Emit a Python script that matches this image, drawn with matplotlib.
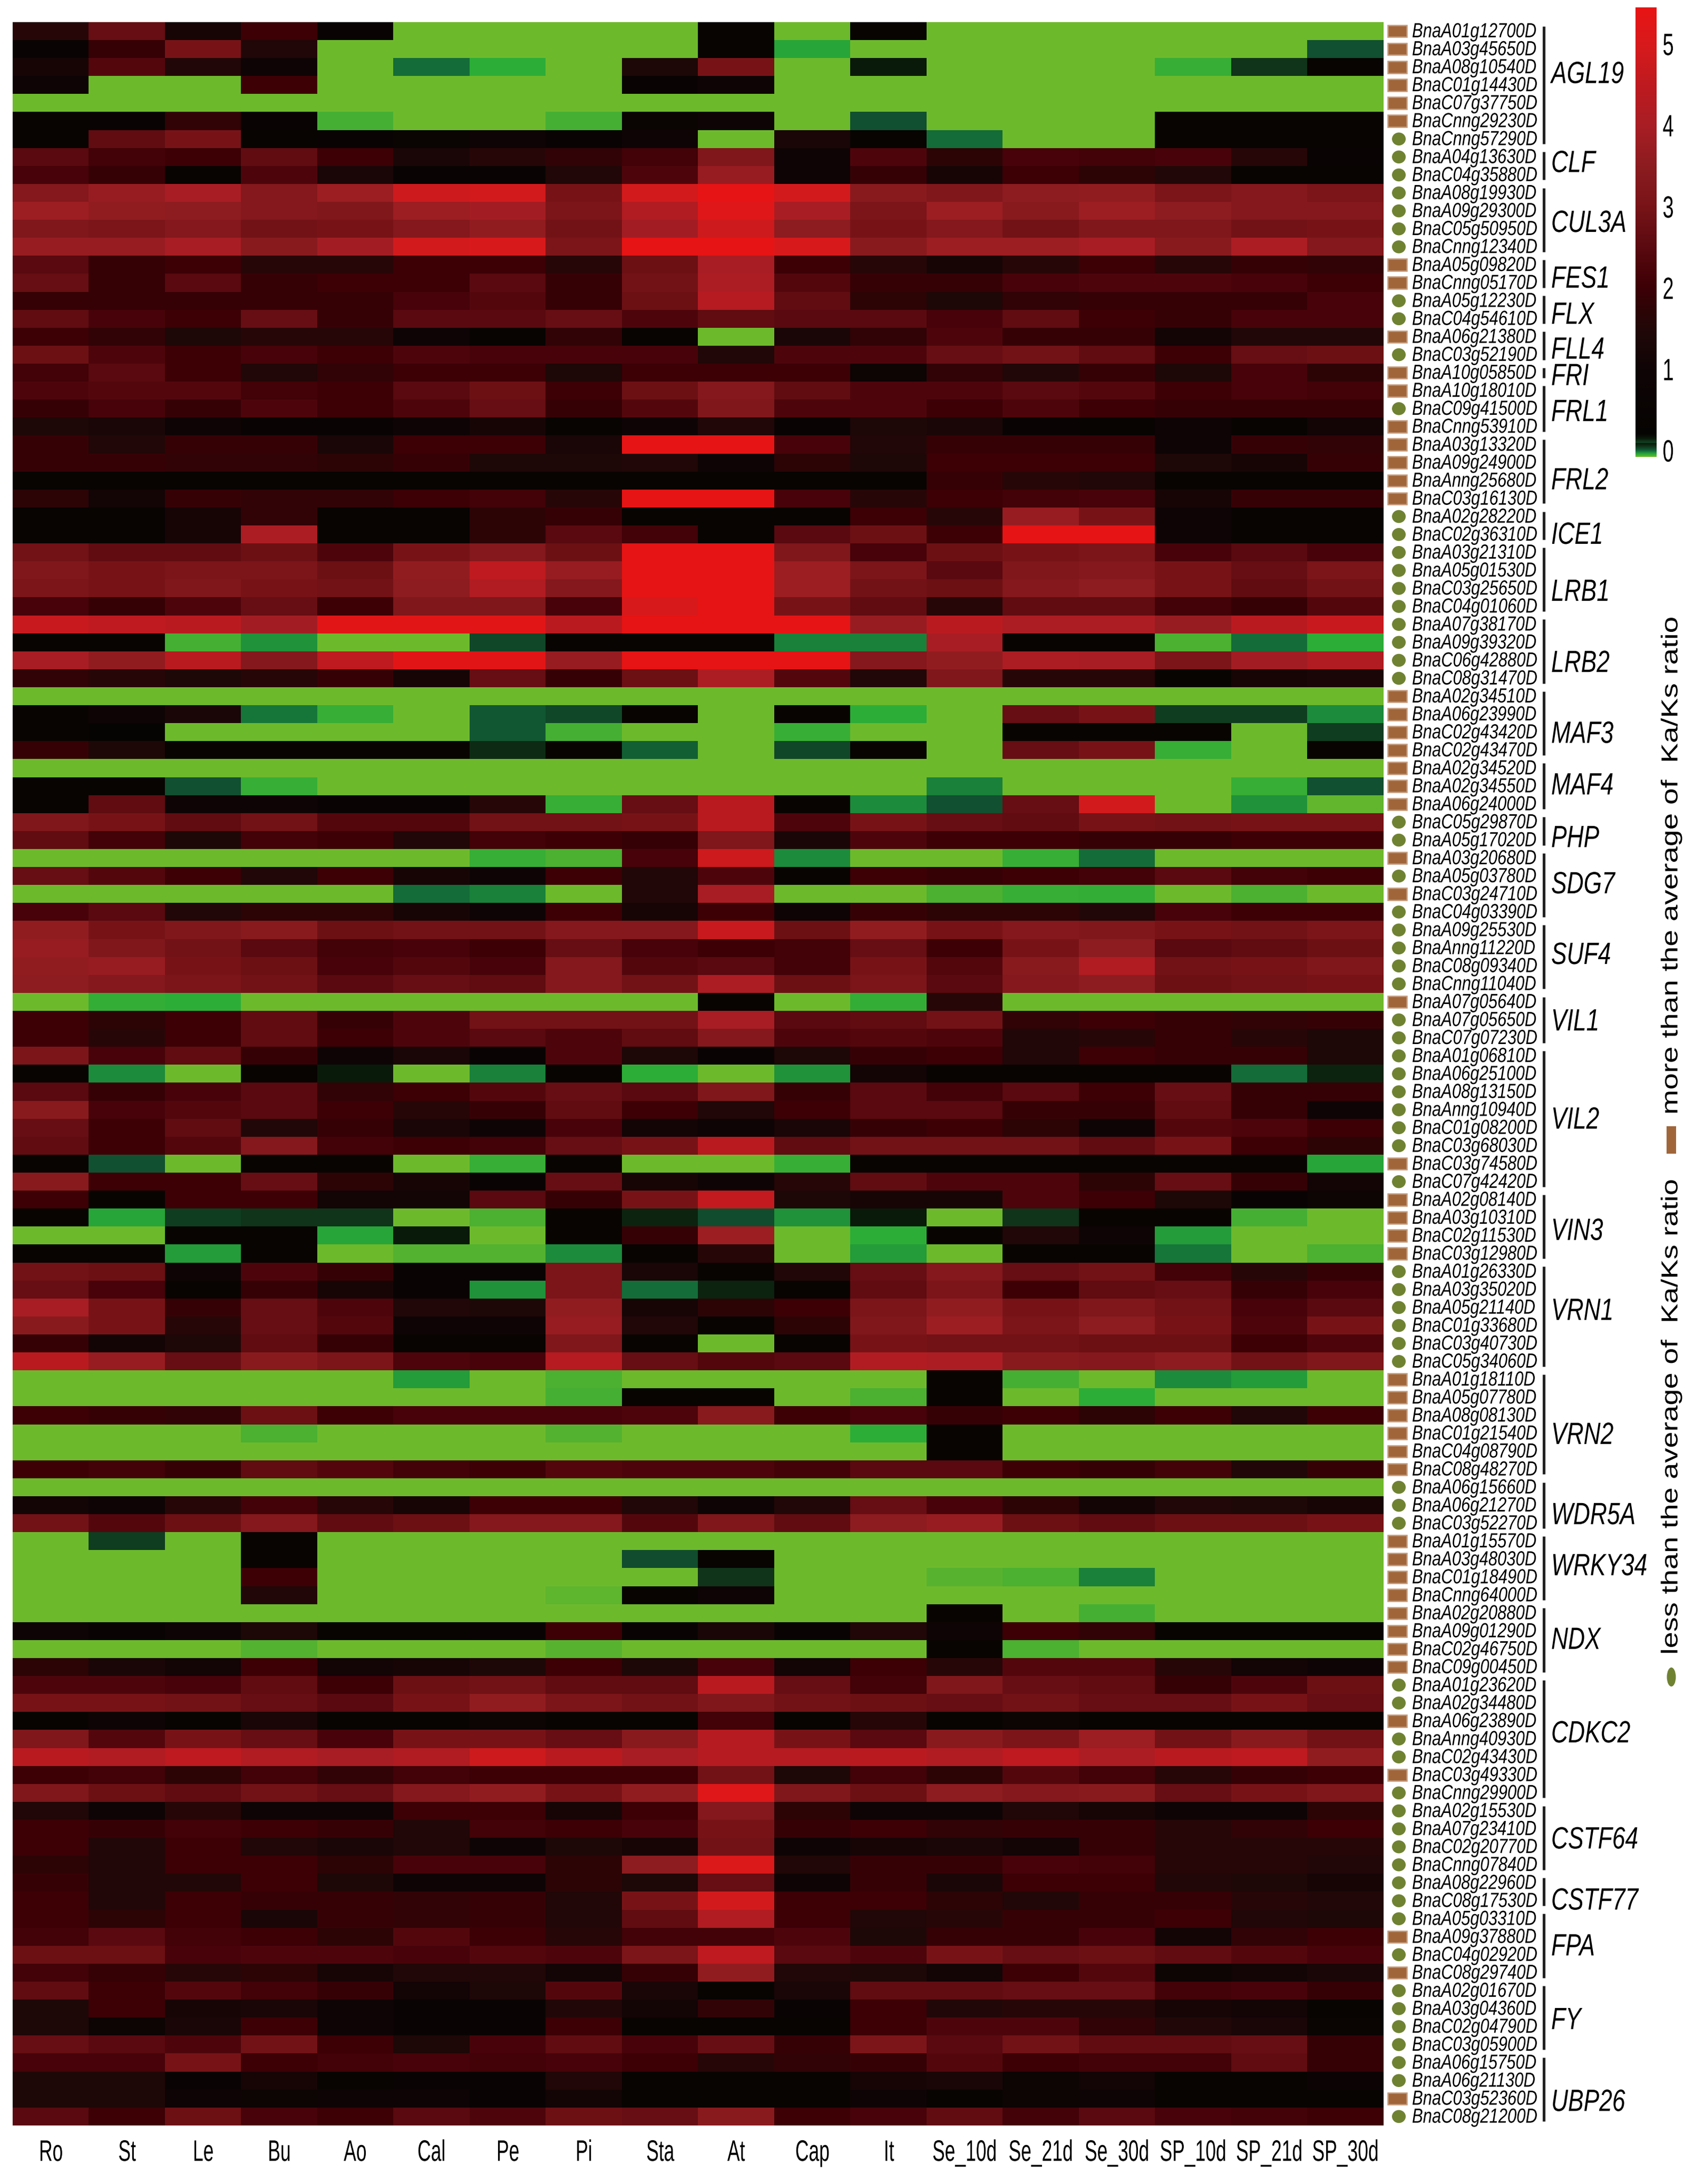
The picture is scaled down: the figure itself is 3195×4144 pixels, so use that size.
import numpy as np
import matplotlib
matplotlib.use('Agg')
import matplotlib.pyplot as plt
from matplotlib.colors import LinearSegmentedColormap
from matplotlib.patches import Rectangle, Ellipse
from matplotlib.patheffects import AbstractPathEffect
from matplotlib.transforms import Affine2D, Bbox

W, H = 3195, 4144
plt.rcParams['font.family'] = ['Liberation Sans', 'DejaVu Sans']

tissues = ['Ro', 'St', 'Le', 'Bu', 'Ao', 'Cal', 'Pe', 'Pi', 'Sta', 'At', 'Cap', 'It',
           'Se_10d', 'Se_21d', 'Se_30d', 'SP_10d', 'SP_21d', 'SP_30d']

group_names = ['AGL19', 'CLF', 'CUL3A', 'FES1', 'FLX', 'FLL4', 'FRI', 'FRL1', 'FRL2', 'ICE1', 'LRB1',
               'LRB2', 'MAF3', 'MAF4', 'PHP', 'SDG7', 'SUF4', 'VIL1', 'VIL2', 'VIN3', 'VRN1', 'VRN2',
               'WDR5A', 'WRKY34', 'NDX', 'CDKC2', 'CSTF64', 'CSTF77', 'FPA', 'FY', 'UBP26']
group_sizes = [7, 2, 4, 2, 2, 2, 1, 3, 4, 2, 4, 4, 4, 3, 2, 4, 4, 3, 8, 4, 6, 6, 3, 4, 4, 7, 4, 2, 4, 4, 4]
# where each group name sits, in rows from the top of the heatmap
group_label_rows = [2.8, 7.75, 11.08, 14.18, 16.19, 18.13, 19.6, 21.6, 25.4, 28.43, 31.6, 35.56, 39.5,
                    42.37, 45.3, 47.87, 51.8, 55.5, 60.96, 67.15, 71.6, 78.5, 82.96, 85.8, 89.9, 95.1,
                    101.0, 104.4, 106.95, 111.05, 115.6]

genes = ['BnaA01g12700D', 'BnaA03g45650D', 'BnaA08g10540D', 'BnaC01g14430D', 'BnaC07g37750D', 'BnaCnng29230D',
         'BnaCnng57290D', 'BnaA04g13630D', 'BnaC04g35880D', 'BnaA08g19930D', 'BnaA09g29300D', 'BnaC05g50950D',
         'BnaCnng12340D', 'BnaA05g09820D', 'BnaCnng05170D', 'BnaA05g12230D', 'BnaC04g54610D', 'BnaA06g21380D',
         'BnaC03g52190D', 'BnaA10g05850D', 'BnaA10g18010D', 'BnaC09g41500D', 'BnaCnng53910D', 'BnaA03g13320D',
         'BnaA09g24900D', 'BnaAnng25680D', 'BnaC03g16130D', 'BnaA02g28220D', 'BnaC02g36310D', 'BnaA03g21310D',
         'BnaA05g01530D', 'BnaC03g25650D', 'BnaC04g01060D', 'BnaA07g38170D', 'BnaA09g39320D', 'BnaC06g42880D',
         'BnaC08g31470D', 'BnaA02g34510D', 'BnaA06g23990D', 'BnaC02g43420D', 'BnaC02g43470D', 'BnaA02g34520D',
         'BnaA02g34550D', 'BnaA06g24000D', 'BnaC05g29870D', 'BnaA05g17020D', 'BnaA03g20680D', 'BnaA05g03780D',
         'BnaC03g24710D', 'BnaC04g03390D', 'BnaA09g25530D', 'BnaAnng11220D', 'BnaC08g09340D', 'BnaCnng11040D',
         'BnaA07g05640D', 'BnaA07g05650D', 'BnaC07g07230D', 'BnaA01g06810D', 'BnaA06g25100D', 'BnaA08g13150D',
         'BnaAnng10940D', 'BnaC01g08200D', 'BnaC03g68030D', 'BnaC03g74580D', 'BnaC07g42420D', 'BnaA02g08140D',
         'BnaA03g10310D', 'BnaC02g11530D', 'BnaC03g12980D', 'BnaA01g26330D', 'BnaA03g35020D', 'BnaA05g21140D',
         'BnaC01g33680D', 'BnaC03g40730D', 'BnaC05g34060D', 'BnaA01g18110D', 'BnaA05g07780D', 'BnaA08g08130D',
         'BnaC01g21540D', 'BnaC04g08790D', 'BnaC08g48270D', 'BnaA06g15660D', 'BnaA06g21270D', 'BnaC03g52270D',
         'BnaA01g15570D', 'BnaA03g48030D', 'BnaC01g18490D', 'BnaCnng64000D', 'BnaA02g20880D', 'BnaA09g01290D',
         'BnaC02g46750D', 'BnaC09g00450D', 'BnaA01g23620D', 'BnaA02g34480D', 'BnaA06g23890D', 'BnaAnng40930D',
         'BnaC02g43430D', 'BnaC03g49330D', 'BnaCnng29900D', 'BnaA02g15530D', 'BnaA07g23410D', 'BnaC02g20770D',
         'BnaCnng07840D', 'BnaA08g22960D', 'BnaC08g17530D', 'BnaA05g03310D', 'BnaA09g37880D', 'BnaC04g02920D',
         'BnaC08g29740D', 'BnaA02g01670D', 'BnaA03g04360D', 'BnaC02g04790D', 'BnaC03g05900D', 'BnaA06g15750D',
         'BnaA06g21130D', 'BnaC03g52360D', 'BnaC08g21200D']

# r = more than the average ratio, c = less than the average, one per gene
marker_types = ('rrrrrrc' 'cc' 'cccc' 'rr' 'cc' 'rc' 'r' 'rcr' 'rrrr' 'cc' 'cccc' 'cccc' 'rrrr' 'rrr' 'cc' 'rcrc'
                'cccc' 'rcc' 'ccccccrc' 'rrrr' 'cccccc' 'rrrrrr' 'ccc' 'rrrr' 'rrrr' 'ccrccrc' 'cccc' 'cc' 'crcr'
                'cccc' 'ccrc')

ka_ks = [
    [1.6, 2.7, 1.2, 2.0, .5, 0, 0, 0, 0, .3, 0, .4, 0, 0, 0, 0, 0, 0],
    [.5, 1.9, 3.0, 1.5, 0, 0, 0, 0, 0, .3, .03, 0, 0, 0, 0, 0, 0, .08],
    [1.2, 2.4, 1.5, 1.0, 0, .06, .025, 0, 1.4, 3.0, 0, .14, 0, 0, 0, .02, .11, .4],
    [.9, 0, 0, 2.0, 0, 0, 0, 0, .5, .9, 0, 0, 0, 0, 0, 0, 0, 0],
    [0, 0, 0, 0, 0, 0, 0, 0, 0, 0, 0, 0, 0, 0, 0, 0, 0, 0],
    [.4, .5, 1.8, .5, .015, 0, 0, .015, .6, .9, 0, .08, 0, 0, 0, .4, .4, .4],
    [.4, 2.6, 3.0, .4, .5, .6, 1.0, .5, 1.0, 0, 1.3, .4, .06, 0, 0, .4, .4, .4],
    [2.5, 2.1, 2.0, 2.6, 2.0, 1.3, 1.6, 1.8, 2.1, 3.2, 1.0, 2.3, 1.7, 2.2, 2.1, 2.2, 1.6, .5],
    [2.2, 1.9, .4, 2.3, 1.3, .5, .5, 1.5, 2.3, 3.7, 1.0, 1.9, 1.2, 2.0, 1.7, 1.5, .4, .4],
    [3.3, 3.7, 4.0, 3.3, 3.8, 4.8, 4.9, 3.0, 4.9, 5.4, 4.9, 3.4, 3.2, 3.5, 3.6, 3.1, 3.3, 3.1],
    [3.8, 3.6, 3.5, 3.3, 3.2, 3.8, 3.9, 3.1, 4.2, 5.2, 4.0, 3.1, 3.8, 3.4, 3.8, 3.5, 3.3, 3.3],
    [3.2, 3.1, 3.3, 2.9, 3.0, 3.3, 3.6, 2.9, 3.9, 4.8, 3.5, 3.0, 3.3, 2.9, 3.2, 3.2, 2.9, 3.0],
    [3.7, 3.7, 4.0, 3.4, 3.9, 4.9, 5.0, 3.1, 5.4, 5.4, 5.0, 3.4, 3.8, 3.8, 4.0, 3.4, 4.1, 3.3],
    [2.5, 1.9, 2.0, 1.6, 1.6, 2.0, 2.0, 1.6, 2.8, 4.0, 2.0, 1.6, 1.2, 1.6, 2.0, 1.6, 1.9, 1.8],
    [2.7, 1.9, 2.5, 1.9, 2.0, 2.0, 2.5, 1.9, 2.9, 4.1, 2.4, 1.9, 1.9, 2.2, 2.3, 2.3, 2.2, 2.0],
    [1.9, 1.9, 1.9, 1.9, 1.9, 2.2, 2.4, 1.9, 2.8, 4.3, 2.6, 1.7, 1.4, 1.8, 1.9, 1.9, 1.9, 2.2],
    [2.6, 2.2, 2.0, 2.7, 1.9, 2.5, 2.5, 2.7, 2.3, 2.6, 2.5, 2.5, 2.2, 2.6, 2.0, 1.9, 2.2, 2.2],
    [2.0, 1.8, 1.4, 1.6, 1.6, .9, .4, 1.8, .4, 0, 1.3, 1.8, 2.3, 1.9, 1.9, 1.1, 1.5, 1.5],
    [2.8, 2.3, 2.0, 2.2, 2.0, 2.3, 2.2, 2.2, 2.2, 1.5, 2.3, 2.3, 2.7, 2.9, 2.6, 2.0, 2.7, 2.8],
    [2.1, 2.5, 2.0, 1.5, 1.8, 2.0, 2.0, 1.4, 2.0, 2.0, 2.0, .8, 1.8, 1.5, 1.9, 1.4, 2.2, 1.7],
    [2.3, 2.4, 2.4, 2.1, 2.0, 2.5, 2.8, 2.0, 2.8, 3.3, 2.6, 2.3, 2.3, 2.5, 2.4, 2.0, 2.2, 2.1],
    [1.9, 2.2, 1.9, 2.3, 2.0, 2.3, 2.7, 1.9, 2.4, 3.2, 2.3, 2.3, 2.0, 2.3, 2.0, 1.9, 1.9, 1.9],
    [1.4, 1.3, 1.0, .5, .5, 1.0, 1.2, .4, 1.0, 1.5, .5, 1.4, 1.3, .5, .4, .9, .4, 1.1],
    [1.9, 1.5, 1.9, 1.9, 1.3, 2.0, 2.0, 1.3, 5.4, 5.4, 2.2, 1.5, 1.9, 1.9, 1.9, .9, 1.9, 1.8],
    [1.9, 1.9, 1.8, 1.8, 1.7, 1.9, 1.4, 1.4, 1.5, 1.0, 1.7, 1.4, 2.0, 2.0, 2.0, 1.4, 1.2, 1.9],
    [.4, .4, .4, .4, .4, .4, .4, .4, .4, .4, .4, .4, 1.9, 1.6, 1.5, .4, .4, .4],
    [1.7, 1.1, 1.9, 1.8, 1.8, 2.0, 2.1, 1.6, 5.4, 5.4, 2.2, 1.6, 2.0, 2.1, 2.2, 1.2, 1.9, 1.9],
    [.4, .4, 1.2, 1.8, .4, .4, 1.7, 1.9, .4, .4, .4, 2.0, 1.6, 3.7, 3.0, 1.0, .4, .4],
    [.4, .4, 1.2, 4.1, .4, .4, 1.7, 2.5, 2.1, .4, 2.5, 2.8, 2.0, 5.4, 5.4, 1.0, .4, .4],
    [2.9, 2.6, 2.6, 2.8, 2.3, 3.0, 3.3, 2.8, 5.4, 5.4, 3.2, 2.2, 2.8, 3.0, 3.1, 2.2, 2.5, 2.2],
    [3.2, 3.0, 3.1, 3.1, 2.8, 3.6, 4.5, 3.7, 5.4, 5.4, 3.8, 3.1, 2.5, 3.2, 3.3, 3.0, 2.7, 3.1],
    [3.1, 3.0, 3.2, 3.0, 2.9, 3.5, 4.2, 3.3, 5.4, 5.4, 3.8, 2.9, 2.8, 3.3, 3.5, 3.0, 2.6, 2.9],
    [2.2, 1.9, 2.3, 2.7, 2.0, 3.2, 3.2, 2.2, 5.0, 5.4, 3.0, 2.6, 1.6, 2.6, 2.6, 2.1, 1.9, 2.4],
    [4.7, 4.5, 4.4, 3.9, 5.3, 5.3, 5.3, 4.4, 5.4, 5.4, 5.4, 3.7, 4.4, 4.1, 4.1, 3.7, 4.4, 4.7],
    [.4, .4, .015, .04, 0, 0, .09, .4, .4, .4, .05, .05, 4.0, .4, .4, .012, .06, .025],
    [4.0, 3.6, 4.4, 3.3, 4.5, 5.3, 5.3, 3.7, 5.4, 5.4, 5.4, 3.3, 3.6, 4.1, 4.0, 3.1, 3.9, 4.2],
    [1.8, 1.6, 1.4, 1.6, 1.9, 1.2, 2.7, 1.9, 2.8, 4.1, 2.4, 1.5, 3.2, 1.6, 1.6, .4, 1.2, 1.3],
    [0, 0, 0, 0, 0, 0, 0, 0, 0, 0, 0, 0, 0, 0, 0, 0, 0, 0],
    [.4, 1.0, 1.3, .055, .02, 0, .075, .09, .3, 0, .4, .025, 0, 2.7, 3.0, .1, .1, .045],
    [.4, .2, 0, 0, 0, 0, .075, .015, 0, 0, .02, 0, 0, .4, .4, .4, 0, .1],
    [1.9, 1.4, .4, .4, .4, .4, .12, .4, .07, 0, .09, .4, 0, 2.7, 3.0, .02, 0, .4],
    [0, 0, 0, 0, 0, 0, 0, 0, 0, 0, 0, 0, 0, 0, 0, 0, 0, 0],
    [.4, .4, .08, .02, 0, 0, 0, 0, 0, 0, 0, 0, .05, 0, 0, 0, .02, .08],
    [.4, 2.6, .9, 1.0, .5, .5, 1.6, .02, 2.7, 4.4, .4, .045, .08, 2.7, 4.9, 0, .04, .005],
    [3.2, 3.0, 2.6, 2.9, 2.4, 2.4, 2.9, 2.9, 3.0, 4.4, 2.3, 3.0, 2.7, 2.6, 3.0, 2.9, 3.0, 3.0],
    [2.6, 2.1, 1.4, 2.1, 2.0, 1.5, 2.1, 2.0, 1.9, 3.2, 1.3, 2.3, 2.0, 2.0, 1.9, 1.9, 2.0, 2.0],
    [0, 0, 0, 0, 0, 0, .02, .012, 2.2, 4.8, .045, 0, 0, .02, .06, 0, 0, 0],
    [2.7, 2.4, 2.0, 1.5, 2.0, 1.2, .9, 2.0, 1.5, 2.3, .4, 2.0, 1.9, 2.0, 2.1, 2.5, 2.1, 2.0],
    [0, 0, 0, 0, 0, .06, .05, 0, 1.5, 4.0, 0, 0, .012, .02, .022, 0, .012, 0],
    [2.2, 2.5, 1.5, 1.7, 1.7, 1.2, 1.0, 2.0, 1.2, 2.0, .9, 1.9, 1.7, 1.7, 1.5, 2.2, 2.0, 2.0],
    [3.6, 3.0, 3.2, 3.4, 2.8, 2.9, 2.9, 3.3, 3.3, 4.7, 2.8, 3.6, 3.0, 3.3, 3.2, 3.0, 2.9, 3.1],
    [3.7, 3.2, 2.9, 2.5, 2.1, 2.2, 2.0, 2.7, 2.2, 2.0, 2.1, 2.7, 2.0, 3.0, 3.5, 2.5, 2.6, 2.8],
    [3.6, 3.7, 3.0, 2.8, 2.2, 2.4, 2.2, 3.3, 2.4, 2.5, 2.1, 3.0, 2.4, 3.4, 4.2, 2.9, 3.0, 3.2],
    [3.5, 3.3, 3.1, 2.9, 2.5, 2.7, 2.6, 3.3, 2.9, 4.1, 2.8, 3.1, 2.5, 3.3, 3.5, 2.8, 2.9, 3.0],
    [0, .022, .025, 0, 0, 0, 0, 0, 0, .4, 0, .022, 1.6, 0, 0, 0, 0, 0],
    [2.0, 1.7, 2.0, 2.6, 1.9, 2.3, 2.9, 2.9, 2.9, 4.0, 2.5, 2.6, 2.9, 1.8, 2.0, 1.9, 1.8, 1.9],
    [2.0, 1.6, 2.0, 2.6, 2.0, 2.3, 2.5, 2.3, 2.6, 3.3, 2.3, 2.4, 2.3, 1.5, 1.6, 1.9, 1.6, 1.4],
    [3.1, 2.2, 2.6, 1.9, 1.0, 1.3, .5, 2.3, 1.4, .5, 1.4, 1.9, 2.0, 1.5, 2.0, 1.9, 1.9, 1.4],
    [.4, .045, 0, .4, .14, 0, .05, .4, .025, 0, .04, 1.1, .4, .4, .4, .4, .06, .13],
    [2.5, 1.9, 2.2, 2.5, 1.8, 2.0, 2.4, 2.7, 2.5, 3.2, 1.9, 2.5, 2.1, 2.5, 2.0, 2.7, 1.9, 1.9],
    [3.4, 2.2, 2.4, 2.5, 2.0, 1.6, 1.9, 2.6, 2.0, 1.5, 2.0, 2.5, 2.5, 1.9, 1.9, 2.6, 1.9, 1.0],
    [2.7, 2.0, 2.6, 1.5, 1.9, 1.3, 1.0, 2.2, 1.1, 1.0, 1.3, 1.9, 2.0, 1.7, 1.0, 2.4, 2.3, 2.0],
    [2.6, 2.0, 2.4, 3.3, 2.1, 2.0, 2.1, 2.7, 3.0, 4.4, 2.6, 2.9, 2.9, 2.9, 2.6, 3.0, 2.0, 1.7],
    [.4, .08, 0, .4, .4, 0, .02, .4, 0, 0, .02, .4, .4, .4, .4, .4, .4, .03],
    [3.4, 2.0, 2.0, 2.7, 1.7, 1.2, .5, 2.7, 1.2, .9, 1.6, 2.6, 2.3, 2.3, 1.7, 2.7, 1.9, 1.1],
    [2.0, .4, 2.0, 2.0, 1.1, 1.1, 2.5, 1.9, 3.0, 4.6, 1.4, 1.2, 1.2, 2.3, 2.0, 1.4, .5, .8],
    [.4, .03, .1, .11, .11, 0, .012, .4, .13, .085, .04, .14, 0, .11, .4, .4, .015, 0],
    [0, 0, .4, .4, .03, .14, 0, .4, 1.9, 3.8, 0, .025, .4, 1.5, 1.0, .035, 0, 0],
    [.4, .4, .035, .4, 0, .01, .01, .045, .4, 1.6, 0, .035, 0, .4, .4, .055, 0, .012],
    [2.9, 2.8, 1.0, 2.3, 1.9, .5, .5, 3.1, 1.3, .4, 1.5, 2.7, 3.3, 2.7, 2.9, 2.1, 1.6, 1.9],
    [2.7, 2.2, .4, 1.9, 1.2, .5, .04, 3.1, .06, .13, .4, 2.6, 3.1, 2.0, 2.6, 2.7, 1.9, 2.2],
    [4.0, 3.0, 1.9, 2.7, 2.3, 1.5, 1.4, 3.6, 1.2, 1.7, 2.0, 3.1, 3.6, 3.0, 3.2, 2.9, 2.2, 2.5],
    [3.4, 3.0, 1.6, 2.7, 2.4, .9, 1.0, 3.7, 1.5, .4, 1.7, 3.2, 3.8, 3.1, 3.5, 3.0, 2.3, 3.0],
    [1.9, 1.1, 1.4, 2.6, 1.9, .4, .4, 3.2, .4, 0, .4, 3.0, 2.9, 2.9, 2.8, 2.8, 2.0, 2.3],
    [4.4, 3.7, 2.7, 3.4, 3.1, 2.3, 2.2, 4.3, 2.7, 2.4, 2.5, 4.2, 4.1, 3.4, 3.3, 3.5, 2.9, 3.2],
    [0, 0, 0, 0, 0, .035, 0, .012, 0, 0, 0, 0, .4, .015, 0, .045, .035, 0],
    [0, 0, 0, 0, 0, 0, 0, .015, .4, .4, 0, .012, .4, 0, .025, 0, 0, 0],
    [2.0, 1.9, 1.8, 2.8, 2.0, 2.2, 2.2, 2.2, 2.3, 3.4, 2.0, 2.2, 1.9, 2.0, 1.7, 2.0, 1.5, 2.0],
    [0, 0, 0, .012, 0, 0, 0, .01, 0, 0, 0, .025, .4, 0, 0, 0, 0, 0],
    [0, 0, 0, 0, 0, 0, 0, 0, 0, 0, 0, 0, .4, 0, 0, 0, 0, 0],
    [2.0, 2.1, 1.9, 2.6, 2.4, 2.1, 2.0, 2.4, 2.3, 2.3, 2.1, 2.5, 2.5, 2.0, 1.9, 2.1, 1.5, 1.9],
    [0, 0, 0, 0, 0, 0, 0, 0, 0, 0, 0, 0, 0, 0, 0, 0, 0, 0],
    [1.1, .9, 1.6, 2.1, 1.6, 1.2, 2.0, 2.0, 1.5, .9, 1.5, 2.7, 2.2, 1.7, 1.1, 1.5, 1.4, 1.2],
    [2.9, 2.4, 2.8, 3.3, 2.6, 2.8, 3.3, 3.3, 2.4, 3.2, 2.6, 3.5, 3.7, 2.8, 2.6, 2.8, 2.8, 3.0],
    [0, .1, 0, .4, 0, 0, 0, 0, 0, 0, 0, 0, 0, 0, 0, 0, 0, 0],
    [0, 0, 0, .4, 0, 0, 0, 0, .085, .4, 0, 0, 0, 0, 0, 0, 0, 0],
    [0, 0, 0, 2.0, 0, 0, 0, 0, 0, .11, 0, 0, .008, .012, .05, 0, 0, 0],
    [0, 0, 0, 1.5, 0, 0, 0, .006, .4, 1.0, 0, 0, 0, 0, 0, 0, 0, 0],
    [0, 0, 0, 0, 0, 0, 0, 0, 0, 0, 0, 0, .4, 0, .015, 0, 0, 0],
    [1.0, .5, 1.0, 1.4, .4, .4, .5, 2.0, .5, 1.3, .5, 1.5, 1.0, 2.0, 1.8, .4, .4, .4],
    [0, 0, 0, .01, 0, 0, 0, .008, 0, 0, 0, 0, .4, .012, 0, 0, 0, 0],
    [1.7, 1.3, 1.1, 2.0, 1.1, 1.2, 1.4, 2.0, 1.4, 2.2, 1.1, 2.0, 1.6, 2.4, 2.4, 1.6, 1.1, 1.0],
    [2.3, 2.3, 2.2, 2.6, 2.0, 2.8, 2.9, 2.6, 2.6, 4.4, 2.7, 2.1, 3.2, 2.7, 2.6, 1.9, 2.3, 2.8],
    [3.0, 3.0, 2.9, 2.7, 2.5, 3.0, 3.6, 3.1, 2.9, 3.2, 2.9, 2.8, 2.7, 2.9, 2.7, 2.7, 3.0, 2.7],
    [.4, 1.0, .4, 1.3, .4, .4, .8, .4, .4, 2.1, .4, 1.6, .4, .8, .4, .4, .4, .4],
    [3.2, 2.4, 3.0, 2.7, 2.2, 3.0, 3.0, 2.7, 3.4, 4.3, 3.0, 2.5, 3.4, 3.1, 3.8, 2.9, 3.4, 2.9],
    [4.4, 4.2, 4.5, 4.2, 4.0, 4.2, 4.8, 4.4, 4.0, 4.3, 4.3, 4.4, 4.2, 4.5, 4.1, 4.4, 4.5, 3.6],
    [2.0, 2.1, 1.7, 2.1, 1.8, 2.1, 2.0, 2.0, 2.0, 2.9, 1.4, 2.1, 1.7, 2.4, 2.1, 1.6, 1.9, 2.0],
    [3.2, 2.8, 2.6, 2.9, 2.7, 3.3, 3.6, 3.0, 3.6, 5.2, 3.2, 2.8, 3.5, 3.3, 3.4, 2.7, 3.0, 3.2],
    [1.5, 1.0, 1.6, 1.0, 1.0, 2.0, 2.0, 1.2, 2.0, 3.3, 1.7, .9, 1.0, 1.5, 1.2, 1.0, 1.0, 1.7],
    [2.0, 1.9, 2.1, 2.0, 1.9, 1.5, 2.1, 2.0, 2.2, 3.0, 1.9, 2.0, 1.8, 1.9, 1.9, 1.6, 1.8, 2.0],
    [2.0, 1.5, 2.0, 1.5, 1.3, 1.5, 1.0, 1.4, 1.2, 2.9, 1.0, 1.2, 1.3, 1.1, 1.9, 1.6, 1.6, 1.6],
    [1.7, 1.5, 2.0, 2.0, 1.7, 2.2, 2.2, 1.7, 3.5, 5.1, 1.5, 1.9, 1.9, 2.2, 2.1, 1.6, 1.6, 1.5],
    [1.9, 1.5, 1.5, 2.0, 1.4, 1.0, .9, 1.7, 1.4, 2.7, 1.0, 1.9, 1.3, 2.0, 2.0, 1.5, 1.4, 1.2],
    [2.0, 1.5, 2.0, 1.9, 1.9, 1.8, 1.9, 1.5, 3.0, 4.9, 2.0, 2.0, 1.7, 1.5, 1.9, 1.9, 1.6, 1.5],
    [2.0, 1.7, 2.0, 1.3, 1.9, 1.8, 1.9, 1.5, 2.6, 4.2, 2.0, 1.5, 1.6, 1.9, 1.9, 2.0, 1.5, 1.4],
    [2.1, 2.5, 2.1, 2.0, 1.7, 2.4, 2.0, 1.6, 2.1, 2.1, 2.3, 1.4, 1.9, 1.9, 2.2, 1.1, 1.8, 2.0],
    [2.8, 2.8, 2.2, 2.3, 2.3, 2.2, 2.4, 2.3, 3.1, 4.5, 2.5, 2.3, 3.0, 2.7, 2.8, 2.6, 2.4, 2.2],
    [2.1, 1.9, 1.6, 1.7, 1.2, 1.5, 1.5, 1.1, 1.9, 3.6, 1.5, 1.4, 1.1, 2.0, 2.4, .8, 1.1, 1.3],
    [2.6, 2.0, 2.4, 2.1, 1.9, 1.1, 1.4, 2.4, 1.3, .4, 1.3, 2.6, 2.6, 2.7, 2.7, 2.1, 2.2, 1.9],
    [1.4, 2.0, 1.2, 1.3, 1.0, .5, .5, 1.5, 1.1, 1.8, .5, 2.0, 1.5, 1.6, 1.6, 1.2, 1.1, .4],
    [1.4, .8, 1.3, 2.0, 1.0, .5, .5, 2.0, .4, .4, .4, 2.0, 2.3, 2.3, 1.8, 1.5, 1.3, .6],
    [2.7, 2.5, 2.3, 2.9, 2.0, 1.4, 2.2, 2.6, 2.2, 2.7, 1.9, 3.1, 2.5, 2.9, 2.6, 2.6, 2.7, 1.9],
    [2.2, 2.2, 3.0, 2.0, 2.1, 2.2, 2.1, 2.2, 2.0, 1.6, 1.8, 1.9, 2.4, 2.0, 2.1, 2.1, 2.6, 1.9],
    [1.4, 1.4, .5, 1.2, .4, .5, .5, 1.5, .4, .4, .4, 1.2, 1.3, .8, 1.1, .4, .4, .7],
    [1.4, 1.4, .9, .8, .9, 1.0, .5, 1.1, .4, .4, .4, 1.0, .4, .8, 1.0, .4, .4, .4],
    [2.5, 2.0, 2.8, 2.2, 2.0, 2.5, 2.3, 2.8, 2.7, 3.4, 2.0, 2.2, 2.6, 2.1, 2.5, 2.2, 2.1, 2.0],
]

VMAX = 5.45
stop_values = [0, .012, .025, .045, .06, .08, .11, .14, .2, 1.0, 1.5, 2.0, 2.5, 3.0, 3.5, 4.0, 4.5, 5.0, VMAX]
stop_colors = ['#6db92c', '#4cb032', '#2aad38', '#1c8a3c', '#146c38', '#115030', '#0f3419', '#0a1a0a', '#060402',
               '#100406', '#220808', '#3c0005', '#5a0a10', '#781418', '#8c1c20', '#a81e24', '#be1a20', '#d81a1c',
               '#e81414']
cmap = LinearSegmentedColormap.from_list('kaks', [(v / VMAX, c) for v, c in zip(stop_values, stop_colors)], N=4096)


def box(x0, y0, x1, y1):
    # pixel box, y from the top of the image
    return [x0 / W, 1 - y1 / H, (x1 - x0) / W, (y1 - y0) / H]


class Squeeze(AbstractPathEffect):
    # the reference text is condensed and no narrow font is installed, so scale the glyphs along the baseline
    def __init__(self, factor, centered):
        super().__init__()
        self.factor = factor
        self.centered = centered

    def draw_path(self, renderer, gc, tpath, affine, rgbFace=None):
        shift = 0
        if self.centered:
            ext = tpath.get_extents()
            shift = (1 - self.factor) * (ext.x0 + ext.x1) / 2
        renderer.draw_path(gc, tpath, Affine2D().scale(self.factor, 1).translate(shift, 0) + affine, rgbFace)


def squeeze(text, factor):
    centered = text.get_ha() == 'center'
    text.set_path_effects([Squeeze(factor, centered)])
    if text.get_rotation() != 0:
        return
    # keep the reported extent in step with what is drawn
    full_extent = text.get_window_extent

    def extent(renderer=None, dpi=None):
        b = full_extent(renderer, dpi)
        x0 = b.x0 + b.width * (1 - factor) / 2 if centered else b.x0
        return Bbox.from_extents(x0, b.y0, x0 + b.width * factor, b.y1)
    text.get_window_extent = extent


fig = plt.figure(figsize=(W / 300, H / 300), dpi=300)

HM_LEFT, HM_TOP, HM_RIGHT, HM_BOTTOM = 24, 42, 2625, 4033
ax = fig.add_axes(box(HM_LEFT, HM_TOP, HM_RIGHT, HM_BOTTOM))
ax.imshow(np.array(ka_ks), cmap=cmap, vmin=0, vmax=VMAX, aspect='auto', interpolation='nearest')
ax.set_xticks(range(len(tissues)))
ax.set_xticklabels(tissues, fontsize=13.5)
ax.tick_params(axis='x', length=0, pad=6.5)
for lab in ax.get_xticklabels():
    squeeze(lab, 0.63)
ax.set_yticks([])
for sp in ax.spines.values():
    sp.set_visible(False)

# side panel shares the rows of the heatmap, x in image pixels
side = fig.add_axes(box(HM_RIGHT, HM_TOP, W, HM_BOTTOM))
side.set_xlim(HM_RIGHT, W)
side.set_ylim(len(genes) - 0.5, -0.5)
side.axis('off')

for i, (gene, kind) in enumerate(zip(genes, marker_types)):
    if kind == 'r':
        side.add_patch(Rectangle((2633, i - 0.33), 36, 0.66, fc='#a0663a', ec='#c49a7c', lw=0.6))
    else:
        side.add_patch(Ellipse((2654, i), 26, 0.72, fc='#6f8232', ec='none'))
    squeeze(side.text(2679, i + 0.05, gene, style='italic', fontsize=9.3, ha='left', va='center', color='black'),
            0.8)

start = 0
for name, size, label_row in zip(group_names, group_sizes, group_label_rows):
    side.plot([2929, 2929], [start - 0.28, start + size - 0.72], color='#222222', lw=1.25, solid_capstyle='butt')
    squeeze(side.text(2943, label_row - 0.35, name, style='italic', fontsize=14, ha='left', va='center',
                      color='black'), 0.76)
    start += size

# colour bar
cb_ticks = [0, 1, 2, 3, 4, 5]
cb = fig.add_axes(box(3103, 14, 3142, 867))
cb_scale = np.linspace(5.45, -0.08, 512)
# the green part of the bar is squeezed into the short stretch around 0
cb_colors = np.where(cb_scale < 0.09, (cb_scale + 0.08) * 0.15 / 0.17, cb_scale)
cb.imshow(cb_colors[:, None], cmap=cmap, vmin=0, vmax=VMAX, aspect='auto', extent=[0, 1, -0.08, 5.45],
          interpolation='bilinear')
cb.set_xticks([])
cb.yaxis.tick_right()
cb.set_yticks(cb_ticks)
cb.set_yticklabels(cb_ticks, fontsize=14)
cb.tick_params(axis='y', length=0, pad=3)
for lab in cb.get_yticklabels():
    squeeze(lab, 0.65)
for sp in cb.spines.values():
    sp.set_visible(False)

# rotated legend at the right edge, x and y in image pixels
leg = fig.add_axes(box(0, 0, W, H))
leg.set_xlim(0, W)
leg.set_ylim(H, 0)
leg.axis('off')
leg.patch.set_alpha(0)
leg.add_patch(Ellipse((3171, 3182), 17, 36, fc='#6f8232', ec='none'))
squeeze(leg.text(3171, 2688, 'less than the average of  Ka/Ks ratio', rotation=90, ha='center', va='center',
                 fontsize=10.5, color='black'), 1.28)
leg.add_patch(Rectangle((3162, 2137), 18, 52, fc='#a0663a', ec='none'))
squeeze(leg.text(3171, 1642, 'more than the average of  Ka/Ks ratio', rotation=90, ha='center', va='center',
                 fontsize=10.5, color='black'), 1.3)

fig.savefig('out.png', dpi=300, facecolor='white')
